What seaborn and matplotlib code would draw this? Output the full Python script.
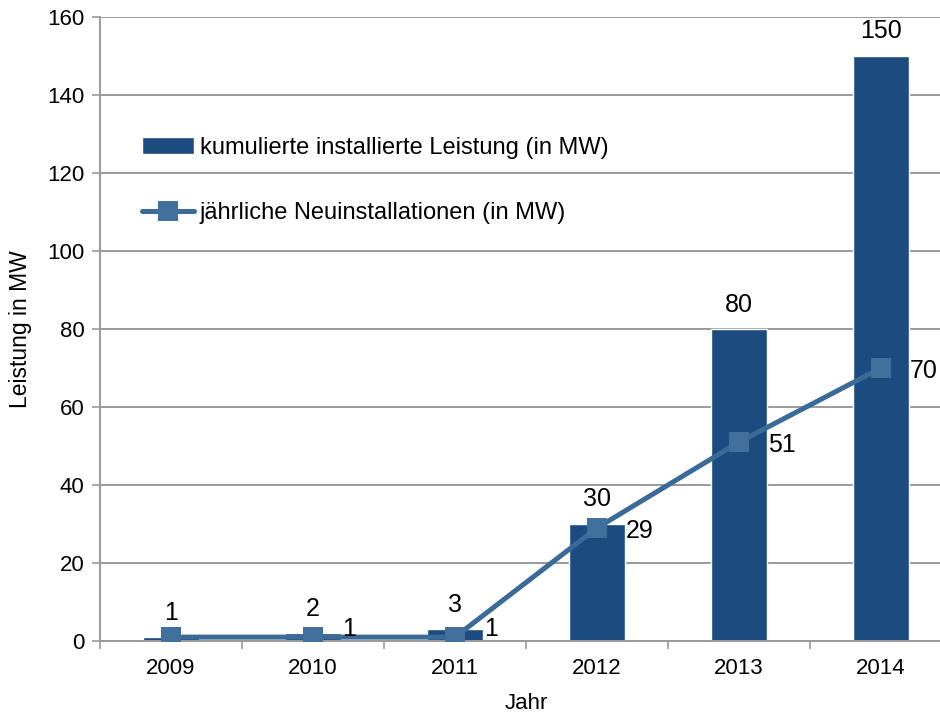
import numpy as np
import pandas as pd
import seaborn as sns
import matplotlib.pyplot as plt
from matplotlib.ticker import FixedLocator

# Data
years = ["2009", "2010", "2011", "2012", "2013", "2014"]
cumulative = [1, 2, 3, 30, 80, 150]
annual = [1, 1, 1, 29, 51, 70]
bar_label = "kumulierte installierte Leistung (in MW)"
line_label = "jährliche Neuinstallationen (in MW)"

BAR_COLOR = "#1C4C7F"
LINE_COLOR = "#3A6A98"
MARKER_COLOR = "#41709C"
GRID_COLOR = "#9A9A9A"

sns.set_theme(style="white")
plt.rcParams["font.family"] = ["Liberation Sans", "DejaVu Sans"]
plt.rcParams["font.size"] = 16
plt.rcParams["text.color"] = "black"
plt.rcParams["axes.labelcolor"] = "black"

df = pd.DataFrame({"Jahr": years, "kumuliert": cumulative, "neu": annual})

fig = plt.figure(figsize=(9.4, 7.15), dpi=100)
ax = fig.add_axes([100 / 940, 74 / 715, 852 / 940, 624 / 715])

sns.barplot(data=df, x="Jahr", y="kumuliert", color=BAR_COLOR, width=0.4,
            saturation=1, ax=ax, label=bar_label, zorder=2)
sns.lineplot(x=np.arange(len(years)), y=df["neu"], ax=ax, color=LINE_COLOR,
             linewidth=3.6, marker="s", markersize=14.5, markerfacecolor=MARKER_COLOR,
             markeredgewidth=0, label=line_label, zorder=3)

# value labels
for i, v in enumerate(cumulative):
    ax.annotate(str(v), (i, v), xytext=(0, 9), textcoords="offset points",
                ha="center", va="bottom", fontsize=18, color="black")
for i, v in enumerate(annual):
    if i == 0:
        continue
    # small values sit just above the flat line, as in the original
    dy = 6 if v < 5 else -2
    ax.annotate(str(v), (i, v), xytext=(21, dy), textcoords="offset points",
                ha="left", va="center", fontsize=18, color="black")

ax.set_ylim(0, 160)
ax.set_xlim(-0.5, len(years) - 0.5)
ax.set_yticks(range(0, 161, 20))
ax.yaxis.grid(True, color=GRID_COLOR, linewidth=1.4)
ax.set_axisbelow(True)

ax.xaxis.set_minor_locator(FixedLocator(np.arange(-0.5, len(years), 1.0)))
ax.tick_params(axis="x", which="major", length=0, pad=12, labelsize=16, colors="black")
ax.tick_params(axis="x", which="minor", length=6, width=1.2, color=GRID_COLOR, direction="out")
ax.tick_params(axis="y", length=6, width=1.2, color=GRID_COLOR, direction="out",
               labelsize=16, pad=5, labelcolor="black")
ax.tick_params(axis="x", which="both", bottom=True)
ax.tick_params(axis="y", left=True)

for side in ["top", "right"]:
    ax.spines[side].set_visible(False)
for side in ["left", "bottom"]:
    ax.spines[side].set_color(GRID_COLOR)
    ax.spines[side].set_linewidth(1.4)

ax.set_xlabel("Jahr", fontsize=16, labelpad=10, color="black")
ax.set_ylabel("Leistung in MW", fontsize=16.5, labelpad=11, color="black")

handles, labels = ax.get_legend_handles_labels()
order = [labels.index(bar_label), labels.index(line_label)]
ax.legend([handles[k] for k in order], [labels[k] for k in order],
          loc="upper left", bbox_to_anchor=(0.049, 0.808), frameon=False,
          fontsize=17, labelspacing=1.85, handlelength=2.2, handletextpad=0.25,
          borderpad=0, borderaxespad=0, labelcolor="black")

fig.savefig("out.png", dpi=100)
